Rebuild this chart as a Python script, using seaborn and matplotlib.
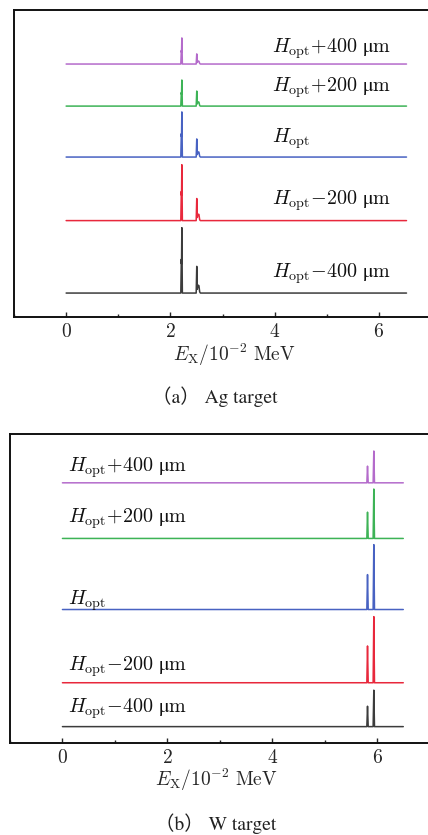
import numpy as np
import pandas as pd
import matplotlib
matplotlib.use("Agg")
import matplotlib.pyplot as plt
from matplotlib.ticker import MultipleLocator
import seaborn as sns

# ---- spectra (arbitrary intensity units, stacked by focal offset) ----
samples = ["−400", "−200", "0", "+200", "+400"]
sample_labels = [
    r"$H_{\rm opt}{-}400\ \mathrm{μm}$",
    r"$H_{\rm opt}{-}200\ \mathrm{μm}$",
    r"$H_{\rm opt}$",
    r"$H_{\rm opt}{+}200\ \mathrm{μm}$",
    r"$H_{\rm opt}{+}400\ \mathrm{μm}$",
]

# Ag target: K-alpha (~2.22) and K-beta (~2.51) lines, energy in 10^-2 MeV
ag_energy = [0.00, 2.200, 2.210, 2.214, 2.220, 2.230, 2.495, 2.506, 2.516,
             2.530, 2.548, 2.562, 2.575, 6.53]
ag_m400 = [0, 0, 11.0, 9.5, 21.3, 0, 0, 8.7, 1.2, 2.6, 2.4, 0.4, 0, 0]
ag_m200 = [0, 0, 9.5, 8.2, 18.2, 0, 0, 7.2, 1.0, 2.1, 2.0, 0.3, 0, 0]
ag_opt = [0, 0, 7.6, 6.6, 14.7, 0, 0, 5.9, 0.8, 1.7, 1.6, 0.3, 0, 0]
ag_p200 = [0, 0, 4.4, 3.8, 8.5, 0, 0, 4.9, 0.7, 1.4, 1.3, 0.2, 0, 0]
ag_p400 = [0, 0, 4.4, 3.8, 8.5, 0, 0, 3.3, 0.5, 1.0, 0.9, 0.2, 0, 0]

# W target: K-alpha2 (~5.82) and K-alpha1 (~5.94) lines
w_energy = [0.00, 5.805, 5.818, 5.831, 5.925, 5.938, 5.951, 6.50]
w_m400 = [0, 0, 6.6, 0, 0, 11.8, 0, 0]
w_m200 = [0, 0, 11.9, 0, 0, 21.4, 0, 0]
w_opt = [0, 0, 11.3, 0, 0, 21.0, 0, 0]
w_p200 = [0, 0, 8.5, 0, 0, 16.0, 0, 0]
w_p400 = [0, 0, 5.4, 0, 0, 10.3, 0, 0]

x_ticks = [0, 2, 4, 6]

# ---- styling ----
sns.set_style("white")
plt.rcParams["font.family"] = ["cmr10", "STIXGeneral", "DejaVu Sans"]
plt.rcParams["mathtext.fontset"] = "cm"
plt.rcParams["axes.formatter.use_mathtext"] = True

palette = {
    "−400": "#3c3c3c",
    "−200": "#e8283c",
    "0": "#4862c2",
    "+200": "#3db356",
    "+400": "#b46bcb",
}

ag_offsets = [7.8, 31.4, 52.1, 68.7, 82.4]
ag_label_y = [13.0, 36.5, 56.7, 73.3, 86.0]
w_offsets = [5.3, 19.5, 43.2, 66.2, 84.2]
w_label_y = [10.0, 23.6, 44.7, 71.2, 87.7]


def stacked_frame(energy, series, offsets):
    rows = []
    for name, vals, off in zip(samples, series, offsets):
        for e, v in zip(energy, vals):
            rows.append({"energy": e, "counts": off + v, "sample": name})
    return pd.DataFrame(rows)


def style_axis(ax):
    ax.set_xlim(-1, 7)
    ax.set_ylim(0, 100)
    ax.set_yticks([])
    ax.set_xticks(x_ticks)
    ax.xaxis.set_minor_locator(MultipleLocator(1))
    ax.tick_params(axis="x", which="major", direction="in", length=3.5,
                   width=1.0, labelsize=14, pad=4, bottom=True, top=False)
    ax.tick_params(axis="x", which="minor", direction="in", length=2,
                   width=1.0, bottom=True, top=False)
    for sp in ax.spines.values():
        sp.set_visible(True)
        sp.set_linewidth(1.4)
        sp.set_color("#111111")
    ax.set_ylabel("")


fig = plt.figure(figsize=(4.28, 8.35), dpi=100)
ax1 = fig.add_axes([14 / 428, 1 - 317 / 835, 417 / 428, 307 / 835])
ax2 = fig.add_axes([10 / 428, 1 - 743 / 835, 419.5 / 428, 309 / 835])

ag_df = stacked_frame(ag_energy, [ag_m400, ag_m200, ag_opt, ag_p200, ag_p400], ag_offsets)
w_df = stacked_frame(w_energy, [w_m400, w_m200, w_opt, w_p200, w_p400], w_offsets)

sns.lineplot(data=ag_df, x="energy", y="counts", hue="sample", palette=palette,
             estimator=None, sort=False, linewidth=1.1, legend=False, ax=ax1)
sns.lineplot(data=w_df, x="energy", y="counts", hue="sample", palette=palette,
             estimator=None, sort=False, linewidth=1.1, legend=False, ax=ax2)

for ax in (ax1, ax2):
    style_axis(ax)

for lbl, y in zip(sample_labels, ag_label_y):
    ax1.text(3.95, y, lbl, fontsize=14.5, ha="left", va="baseline", color="#111111")
for lbl, y in zip(sample_labels, w_label_y):
    ax2.text(0.10, y, lbl, fontsize=14.5, ha="left", va="baseline", color="#111111")

xlabel = r"$E_{\rm X}/10^{-2}\ \mathrm{MeV}$"
ax1.set_xlabel(xlabel, fontsize=14, labelpad=0)
ax2.set_xlabel(xlabel, fontsize=14, labelpad=0)
ax1.xaxis.set_label_coords(0.528, -0.082, transform=ax1.transAxes)
ax1.xaxis.label.set_va("top")
ax2.xaxis.set_label_coords(0.493, -0.076, transform=ax2.transAxes)
ax2.xaxis.label.set_va("top")

cap_font = ["STIXGeneral", "Noto Sans CJK SC"]
fig.text(215 / 428, 1 - 397 / 835, "（a） Ag target", ha="center", va="center",
         fontsize=14, family=cap_font, color="#222222")
fig.text(216 / 428, 1 - 824 / 835, "（b） W target", ha="center", va="center",
         fontsize=14, family=cap_font, color="#222222")

fig.savefig("out.png", dpi=100, facecolor="white")
